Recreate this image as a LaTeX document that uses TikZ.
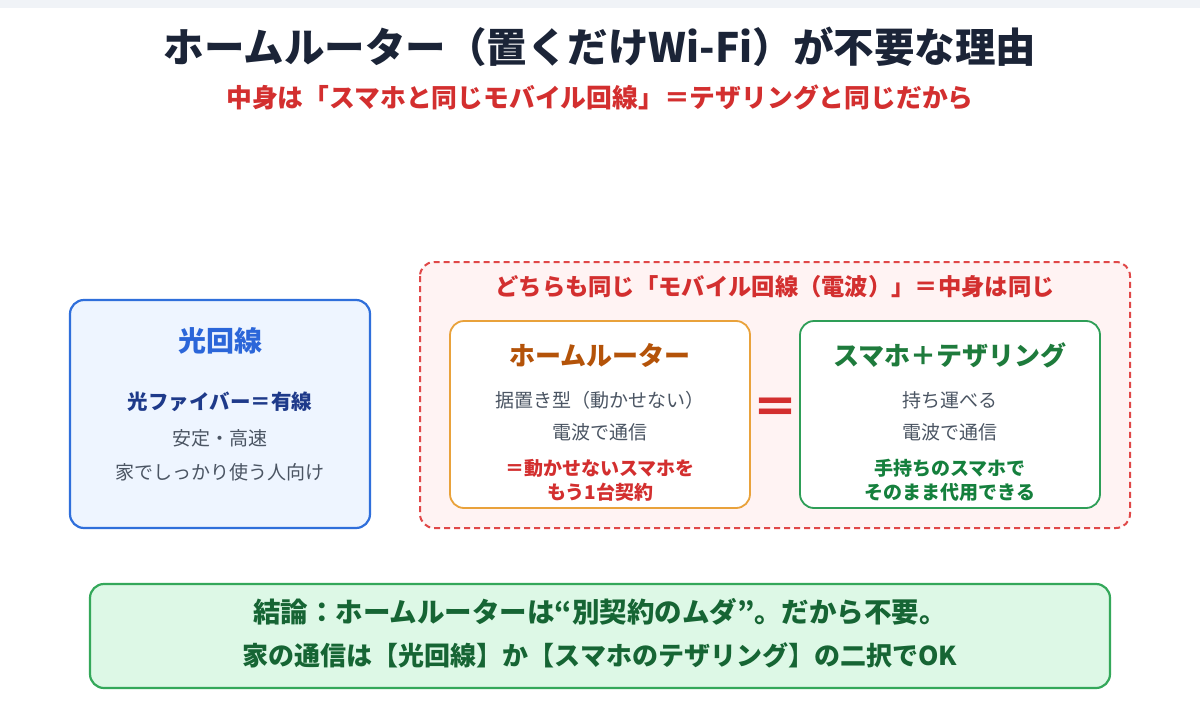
\documentclass[tikz,border=0pt]{standalone}
\usepackage{fontspec}
\setmainfont{Noto Sans CJK JP}
\definecolor{topband}{HTML}{F0F3F7}
\definecolor{navy}{HTML}{1B2437}
\definecolor{redtxt}{HTML}{D32F2F}
\definecolor{blueborder}{HTML}{2F6FDB}
\definecolor{bluefill}{HTML}{EEF5FF}
\definecolor{bluetitle}{HTML}{2B66D9}
\definecolor{bluesub}{HTML}{1E3A8A}
\definecolor{graytxt}{HTML}{4B5563}
\definecolor{orangeborder}{HTML}{E9A23B}
\definecolor{orangetitle}{HTML}{B45309}
\definecolor{greenborder}{HTML}{2E9E57}
\definecolor{greentitle}{HTML}{1E7B3C}
\definecolor{greentxt}{HTML}{15803D}
\definecolor{pinkfill}{HTML}{FFF3F3}
\definecolor{dashred}{HTML}{E04848}
\definecolor{concfill}{HTML}{DDF8E6}
\definecolor{concborder}{HTML}{34A85A}
\definecolor{conctxt}{HTML}{166534}
\newcommand{\fs}[1]{\fontsize{#1}{#1}\selectfont}
\tikzset{
  card/.style={rounded corners=14pt, line width=2.2pt},
  txt/.style={inner sep=0pt, anchor=center},
  body/.style={txt, text=graytxt, font=\fontsize{19}{19}\selectfont},
  twoline/.style={txt, align=center, font=\fontsize{19}{24}\selectfont\bfseries},
}
\begin{document}
\begin{tikzpicture}[x=1pt,y=-1pt]
\useasboundingbox (0,0) rectangle (1200,720);
\fill[white] (0,0) rectangle (1200,720);
\fill[topband] (0,0) rectangle (1200,8);
% title
\node[txt, text=navy] (title) at (600,47) {\fs{40.5}\bfseries ホームルーター（置くだけWi-Fi）が不要な理由};
\node[txt, text=redtxt] (subtitle) at (600,97) {\fs{25.8}\bfseries 中身は「スマホと同じモバイル回線」＝テザリングと同じだから};
% left box
\draw[card, draw=blueborder, fill=bluefill] (70,300) rectangle (370,528);
\node[txt, text=bluetitle] (hikari) at (220,341) {\fs{28}\bfseries 光回線};
\node[txt, text=bluesub] (fiber) at (220,402) {\fs{20.5}\bfseries 光ファイバー＝有線};
\node[body] (stable) at (220,438) {安定・高速};
\node[body] (home) at (220,472) {家でしっかり使う人向け};
% dashed group
\draw[rounded corners=14pt, line width=2pt, draw=dashred, fill=pinkfill, dash pattern=on 6pt off 4pt] (420,262) rectangle (1130,528);
\node[txt, text=redtxt] (same) at (775,287) {\fs{23.3}\bfseries どちらも同じ「モバイル回線（電波）」＝中身は同じ};
% router box
\draw[card, line width=1.8pt, draw=orangeborder, fill=white] (450,321) rectangle (750,508);
\node[txt, text=orangetitle] (router) at (600,355) {\fs{26}\bfseries ホームルーター};
\node[body] (r1) at (600,400) {据置き型（動かせない）};
\node[body] (r2) at (600,432) {電波で通信};
\node[twoline, text=redtxt] (r3) at (600,480) {＝動かせないスマホを\\もう1台契約};
% equal
\node[txt, text=redtxt] (eq) at (775,411) {\fs{46}\bfseries ＝};
% smartphone box
\draw[card, line width=1.8pt, draw=greenborder, fill=white] (800,321) rectangle (1100,508);
\node[txt, text=greentitle] (smart) at (950,355) {\fs{26}\bfseries スマホ＋テザリング};
\node[body] (s1) at (950,400) {持ち運べる};
\node[body] (s2) at (950,432) {電波で通信};
\node[twoline, text=greentxt] (s3) at (950,480) {手持ちのスマホで\\そのまま代用できる};
% conclusion
\draw[card, draw=concborder, fill=concfill] (90,584) rectangle (1110,688);
\node[txt, text=conctxt] (c1) at (600,612) {\fs{27.5}\bfseries 結論：ホームルーターは“別契約のムダ”。だから不要。};
\node[txt, text=conctxt] (c2) at (600,655) {\fs{26}\bfseries 家の通信は【光回線】か【スマホのテザリング】の二択でOK};
\end{tikzpicture}
\end{document}
